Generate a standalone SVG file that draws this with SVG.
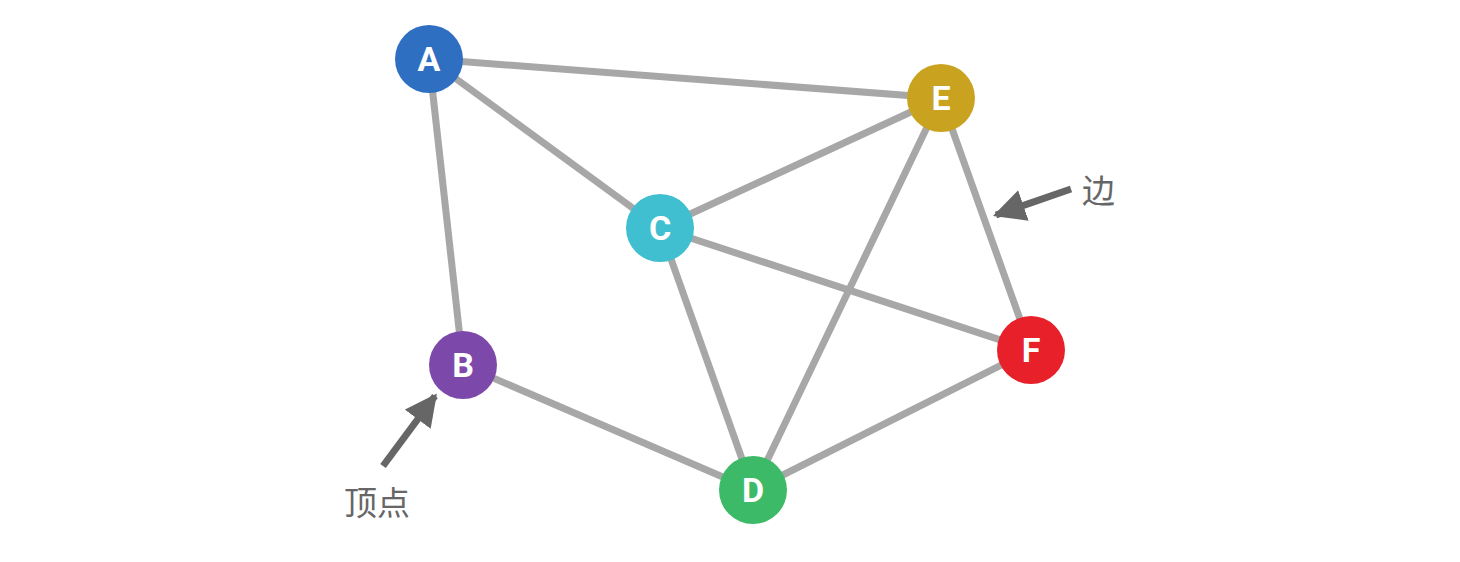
<svg xmlns="http://www.w3.org/2000/svg" width="1460" height="562" viewBox="0 0 1460 562">
<style>
.edge{stroke:#a7a7a7;stroke-width:7;fill:none}
.node text{font-family:Roboto,"Liberation Sans",sans-serif;font-weight:700;font-size:34px;fill:#fff;text-anchor:middle}
.lbl{font-family:"Noto Sans CJK SC","Noto Sans",sans-serif;font-size:33px;fill:#666}
.ptr{stroke:#666;stroke-width:7;fill:none}
</style>
<defs>
<marker id="ah" viewBox="0 0 10 10" refX="9" refY="5" markerWidth="4.6" markerHeight="4.6" orient="auto" markerUnits="strokeWidth">
<path d="M0,0 L10,5 L0,10 Z" fill="#666"/>
</marker>
</defs>
<rect width="1460" height="562" fill="#fff"/>
<g id="connectors">
<line class="edge" x1="429" y1="59" x2="941" y2="98"/>
<line class="edge" x1="429" y1="59" x2="660" y2="228"/>
<line class="edge" x1="429" y1="59" x2="463" y2="365"/>
<line class="edge" x1="941" y1="98" x2="660" y2="228"/>
<line class="edge" x1="941" y1="98" x2="753" y2="490"/>
<line class="edge" x1="941" y1="98" x2="1031" y2="350"/>
<line class="edge" x1="660" y1="228" x2="1031" y2="350"/>
<line class="edge" x1="660" y1="228" x2="753" y2="490"/>
<line class="edge" x1="463" y1="365" x2="753" y2="490"/>
<line class="edge" x1="753" y1="490" x2="1031" y2="350"/>
<line class="ptr" x1="1071" y1="189" x2="996" y2="215" marker-end="url(#ah)"/>
<line class="ptr" x1="383" y1="466" x2="435" y2="396" marker-end="url(#ah)"/>
</g>
<g id="node-A" class="node"><circle cx="429" cy="59" r="34" fill="#2f6fc1"/><text x="429" y="71">A</text></g>
<g id="node-E" class="node"><circle cx="941" cy="98" r="34" fill="#c9a31f"/><text x="941" y="110">E</text></g>
<g id="node-C" class="node"><circle cx="660" cy="228" r="34" fill="#3fbfcf"/><text x="660" y="240">C</text></g>
<g id="node-B" class="node"><circle cx="463" cy="365" r="34" fill="#7c48a9"/><text x="463" y="377">B</text></g>
<g id="node-D" class="node"><circle cx="753" cy="490" r="34" fill="#3dba68"/><text x="753" y="502">D</text></g>
<g id="node-F" class="node"><circle cx="1031" cy="350" r="34" fill="#e8202a"/><text x="1031" y="362">F</text></g>
<text class="lbl" x="1082" y="203">边</text>
<text class="lbl" x="344" y="515">顶点</text>
</svg>
